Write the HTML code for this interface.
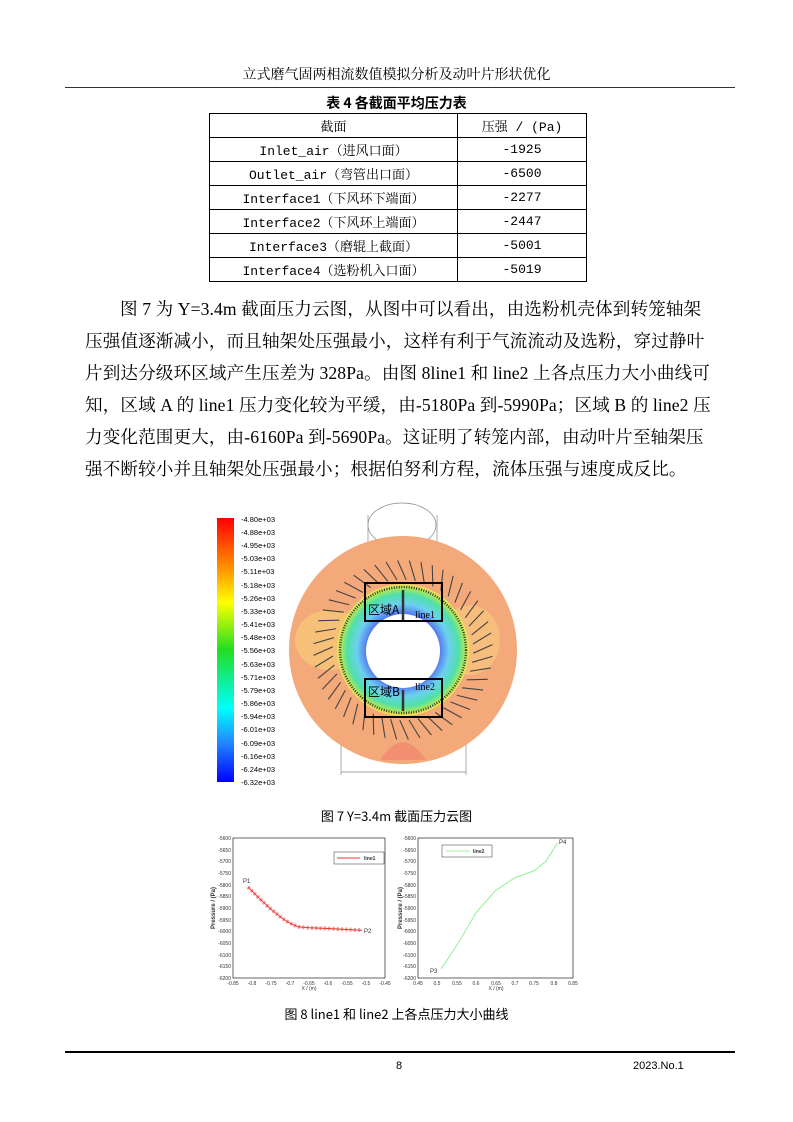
<!DOCTYPE html>
<html><head><meta charset="utf-8"><style>
body{margin:0;background:#fff;}
#p{position:relative;width:793px;height:1122px;overflow:hidden;font-family:"Liberation Serif","Noto Serif CJK SC",serif;color:#000;}
.a{position:absolute;white-space:nowrap;}
table{position:absolute;left:209px;top:113px;border-collapse:collapse;font-family:"Liberation Mono","Noto Serif CJK SC",monospace;font-size:13px;}
td{border:1px solid #000;height:23px;padding:0;text-align:center;}
.t{font-size:17.6px;left:85px;width:627px;letter-spacing:0.1px;}
</style></head><body><div id="p">
<div class="a" style="left:0;width:793px;top:64px;text-align:center;font-size:14px;font-family:'Noto Serif CJK SC',serif;">立式磨气固两相流数值模拟分析及动叶片形状优化</div>
<div class="a" style="left:65px;width:670px;top:87px;border-top:1.5px solid #333;"></div>
<div class="a" style="left:0;width:793px;top:93px;text-align:center;font-size:14px;font-weight:bold;font-family:'Noto Sans CJK SC',sans-serif;">表 4 各截面平均压力表</div>
<table>
<tr><td style="width:247px">截面</td><td style="width:128px">压强 / (Pa)</td></tr>
<tr><td>Inlet_air（进风口面）</td><td>-1925</td></tr>
<tr><td>Outlet_air（弯管出口面）</td><td>-6500</td></tr>
<tr><td>Interface1（下风环下端面）</td><td>-2277</td></tr>
<tr><td>Interface2（下风环上端面）</td><td>-2447</td></tr>
<tr><td>Interface3（磨辊上截面）</td><td>-5001</td></tr>
<tr><td>Interface4（选粉机入口面）</td><td>-5019</td></tr>
</table>
<div class="a t" style="top:296px;text-indent:35px;">图 7 为 Y=3.4m 截面压力云图，从图中可以看出，由选粉机壳体到转笼轴架</div>
<div class="a t" style="top:328px;">压强值逐渐减小，而且轴架处压强最小，这样有利于气流流动及选粉，穿过静叶</div>
<div class="a t" style="top:360px;">片到达分级环区域产生压差为 328Pa。由图 8line1 和 line2 上各点压力大小曲线可</div>
<div class="a t" style="top:392px;">知，区域 A 的 line1 压力变化较为平缓，由-5180Pa 到-5990Pa；区域 B 的 line2 压</div>
<div class="a t" style="top:424px;">力变化范围更大，由-6160Pa 到-5690Pa。这证明了转笼内部，由动叶片至轴架压</div>
<div class="a t" style="top:456px;">强不断较小并且轴架处压强最小；根据伯努利方程，流体压强与速度成反比。</div>

<svg class="a" style="left:0;top:0" width="793" height="1122" font-family="Liberation Sans, sans-serif">
<defs>
<linearGradient id="cb" x1="0" y1="0" x2="0" y2="1">
<stop offset="0" stop-color="#f00"/><stop offset="0.2" stop-color="#ff9a00"/><stop offset="0.32" stop-color="#ff0"/><stop offset="0.5" stop-color="#2d2"/><stop offset="0.72" stop-color="#0ff"/><stop offset="0.85" stop-color="#28f"/><stop offset="1" stop-color="#00f"/></linearGradient>
<radialGradient id="in" cx="0.5" cy="0.5" r="0.5">
<stop offset="0.55" stop-color="#5577ee"/><stop offset="0.7" stop-color="#6cd0f0"/><stop offset="0.85" stop-color="#50e0a8"/><stop offset="0.95" stop-color="#b8ea50"/><stop offset="1" stop-color="#f4e060"/></radialGradient>
<line id="bl" x1="70" y1="-6" x2="88" y2="-17" stroke="#444" stroke-width="1.1"/>
</defs>
<rect x="217" y="518" width="17" height="264" fill="url(#cb)"/>
<g font-size="7.5" fill="#000">
<text x="241" y="522">-4.80e+03</text><text x="241" y="535">-4.88e+03</text><text x="241" y="548">-4.95e+03</text><text x="241" y="561">-5.03e+03</text><text x="241" y="574">-5.11e+03</text><text x="241" y="588">-5.18e+03</text><text x="241" y="601">-5.26e+03</text><text x="241" y="614">-5.33e+03</text><text x="241" y="627">-5.41e+03</text><text x="241" y="640">-5.48e+03</text><text x="241" y="653">-5.56e+03</text><text x="241" y="667">-5.63e+03</text><text x="241" y="680">-5.71e+03</text><text x="241" y="693">-5.79e+03</text><text x="241" y="706">-5.86e+03</text><text x="241" y="719">-5.94e+03</text><text x="241" y="732">-6.01e+03</text><text x="241" y="746">-6.09e+03</text><text x="241" y="759">-6.16e+03</text><text x="241" y="772">-6.24e+03</text><text x="241" y="785">-6.32e+03</text>
</g>
<g stroke="#888" stroke-width="0.7" fill="none">
<line x1="368" y1="515" x2="368" y2="585"/><line x1="437" y1="515" x2="437" y2="585"/>
<ellipse cx="402" cy="525" rx="34" ry="22"/>
<line x1="341" y1="735" x2="341" y2="775"/><line x1="466" y1="735" x2="466" y2="775"/><line x1="341" y1="772" x2="466" y2="772"/>
</g>
<circle cx="403" cy="650" r="114" fill="#f4a97a"/>
<ellipse cx="330" cy="640" rx="35" ry="30" fill="#f6c078"/>
<ellipse cx="470" cy="640" rx="30" ry="35" fill="#f6bd7c"/>
<path d="M380 760 Q403 725 426 760 Z" fill="#f28f70"/>
<circle cx="403" cy="650" r="66" fill="url(#in)"/>
<circle cx="403" cy="650" r="63" fill="none" stroke="#333" stroke-width="2.5" stroke-dasharray="1 1.5"/>
<circle cx="403" cy="651" r="37" fill="#fff"/>
<g transform="translate(403 650)">
<use href="#bl" transform="rotate(0)"/><use href="#bl" transform="rotate(7.5)"/><use href="#bl" transform="rotate(15)"/><use href="#bl" transform="rotate(22.5)"/><use href="#bl" transform="rotate(30)"/><use href="#bl" transform="rotate(37.5)"/><use href="#bl" transform="rotate(45)"/><use href="#bl" transform="rotate(52.5)"/><use href="#bl" transform="rotate(60)"/><use href="#bl" transform="rotate(67.5)"/><use href="#bl" transform="rotate(75)"/><use href="#bl" transform="rotate(82.5)"/><use href="#bl" transform="rotate(90)"/><use href="#bl" transform="rotate(97.5)"/><use href="#bl" transform="rotate(105)"/><use href="#bl" transform="rotate(112.5)"/><use href="#bl" transform="rotate(120)"/><use href="#bl" transform="rotate(127.5)"/><use href="#bl" transform="rotate(135)"/><use href="#bl" transform="rotate(142.5)"/><use href="#bl" transform="rotate(150)"/><use href="#bl" transform="rotate(157.5)"/><use href="#bl" transform="rotate(165)"/><use href="#bl" transform="rotate(172.5)"/><use href="#bl" transform="rotate(180)"/><use href="#bl" transform="rotate(187.5)"/><use href="#bl" transform="rotate(195)"/><use href="#bl" transform="rotate(202.5)"/><use href="#bl" transform="rotate(210)"/><use href="#bl" transform="rotate(217.5)"/><use href="#bl" transform="rotate(225)"/><use href="#bl" transform="rotate(232.5)"/><use href="#bl" transform="rotate(240)"/><use href="#bl" transform="rotate(247.5)"/><use href="#bl" transform="rotate(255)"/><use href="#bl" transform="rotate(262.5)"/><use href="#bl" transform="rotate(270)"/><use href="#bl" transform="rotate(277.5)"/><use href="#bl" transform="rotate(285)"/><use href="#bl" transform="rotate(292.5)"/><use href="#bl" transform="rotate(300)"/><use href="#bl" transform="rotate(307.5)"/><use href="#bl" transform="rotate(315)"/><use href="#bl" transform="rotate(322.5)"/><use href="#bl" transform="rotate(330)"/><use href="#bl" transform="rotate(337.5)"/><use href="#bl" transform="rotate(345)"/><use href="#bl" transform="rotate(352.5)"/>
</g>
<g fill="none" stroke="#000" stroke-width="2">
<rect x="365" y="583" width="77" height="38"/><rect x="365" y="679" width="77" height="38"/>
</g>
<line x1="403" y1="590" x2="403" y2="620" stroke="#333" stroke-width="2.5"/>
<line x1="403" y1="690" x2="403" y2="711" stroke="#333" stroke-width="2.5"/>
<g font-size="12" font-family="Noto Sans CJK SC, sans-serif"><text x="368" y="614">区域A</text><text x="368" y="696">区域B</text></g>
<g font-size="10" font-family="Liberation Serif, serif"><text x="415" y="618">line1</text><text x="415" y="690">line2</text></g>

<g font-size="5" fill="#333">
<rect x="233" y="838" width="152" height="140" fill="none" stroke="#000" stroke-width="0.6"/>
<g text-anchor="end"><text x="231" y="840">-5600</text><text x="231" y="852">-5650</text><text x="231" y="863">-5700</text><text x="231" y="875">-5750</text><text x="231" y="887">-5800</text><text x="231" y="898">-5850</text><text x="231" y="910">-5900</text><text x="231" y="922">-5950</text><text x="231" y="933">-6000</text><text x="231" y="945">-6050</text><text x="231" y="957">-6100</text><text x="231" y="968">-6150</text><text x="231" y="980">-6200</text></g>
<g text-anchor="middle"><text x="233" y="985">-0.85</text><text x="252" y="985">-0.8</text><text x="271" y="985">-0.75</text><text x="290" y="985">-0.7</text><text x="309" y="985">-0.65</text><text x="328" y="985">-0.6</text><text x="347" y="985">-0.55</text><text x="366" y="985">-0.5</text><text x="385" y="985">-0.45</text><text x="309" y="990">X / (m)</text></g>
<text transform="translate(215 908) rotate(-90)" text-anchor="middle" font-size="6" font-weight="bold">Pressure / (Pa)</text>
<text x="243" y="883" font-size="6">P1</text><text x="364" y="933" font-size="6">P2</text>
<rect x="334" y="852" width="50" height="12" fill="#fff" stroke="#333" stroke-width="0.5"/>
<line x1="337" y1="858" x2="360" y2="858" stroke="#e33" stroke-width="1"/><text x="364" y="860" font-weight="bold">line1</text>
<polyline fill="none" stroke="#e33" stroke-width="1" points="248,887 259.6,898.7 271,909.2 282.4,918.5 290,923.2 297.6,926.7 309,927.8 328,928.5 347,929.5 362,930.2"/>
<polyline fill="none" stroke="#e33" stroke-width="4" opacity="0.5" stroke-dasharray="2 2.3" points="248,887 259.6,898.7 271,909.2 282.4,918.5 290,923.2 297.6,926.7 309,927.8 328,928.5 347,929.5 362,930.2"/>

<rect x="418" y="838" width="155" height="140" fill="none" stroke="#000" stroke-width="0.6"/>
<g text-anchor="end"><text x="416" y="840">-5600</text><text x="416" y="852">-5650</text><text x="416" y="863">-5700</text><text x="416" y="875">-5750</text><text x="416" y="887">-5800</text><text x="416" y="898">-5850</text><text x="416" y="910">-5900</text><text x="416" y="922">-5950</text><text x="416" y="933">-6000</text><text x="416" y="945">-6050</text><text x="416" y="957">-6100</text><text x="416" y="968">-6150</text><text x="416" y="980">-6200</text></g>
<g text-anchor="middle"><text x="418" y="985">0.45</text><text x="437" y="985">0.5</text><text x="457" y="985">0.55</text><text x="476" y="985">0.6</text><text x="496" y="985">0.65</text><text x="515" y="985">0.7</text><text x="534" y="985">0.75</text><text x="554" y="985">0.8</text><text x="573" y="985">0.85</text><text x="496" y="990">X / (m)</text></g>
<text transform="translate(402 908) rotate(-90)" text-anchor="middle" font-size="6" font-weight="bold">Pressure / (Pa)</text>
<text x="430" y="973" font-size="6">P3</text><text x="559" y="844" font-size="6">P4</text>
<rect x="442" y="845" width="50" height="12" fill="#fff" stroke="#333" stroke-width="0.5"/>
<line x1="446" y1="851" x2="470" y2="851" stroke="#8e8" stroke-width="0.8"/><text x="473" y="853" font-weight="bold">line2</text>
<polyline fill="none" stroke="#8e8" stroke-width="0.9" points="441.3,968.7 456.8,945.3 476.1,912.7 495.5,890.5 514.9,877.7 534.3,870.7 545.9,861.3 557.5,842.7"/>
</g>
</svg>
<div class="a" style="left:0;width:793px;top:806px;text-align:center;font-size:13px;font-family:'Noto Sans CJK SC',sans-serif;">图 7 Y=3.4m 截面压力云图</div>
<div class="a" style="left:0;width:793px;top:1004px;text-align:center;font-size:13px;font-family:'Noto Sans CJK SC',sans-serif;">图 8 line1 和 line2 上各点压力大小曲线</div>
<div class="a" style="left:65px;width:670px;top:1051px;border-top:2px solid #000;"></div>
<div class="a" style="left:396px;top:1060px;font-size:11px;font-family:'Liberation Sans',sans-serif;">8</div>
<div class="a" style="left:633px;top:1060px;font-size:11px;font-family:'Liberation Sans',sans-serif;">2023.No.1</div>
</div></body></html>
